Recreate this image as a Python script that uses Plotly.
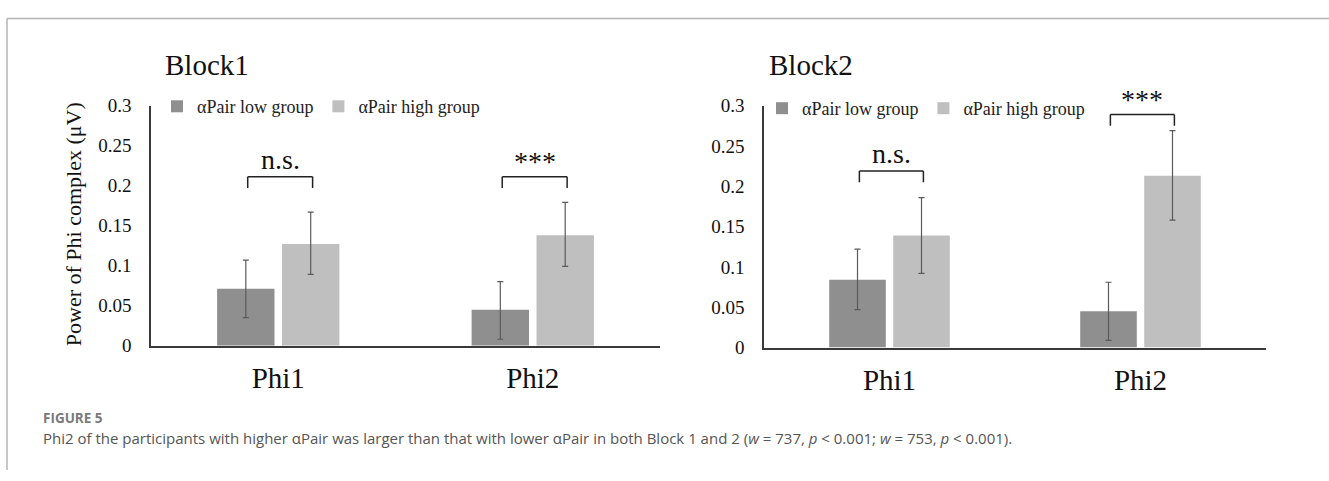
import plotly.graph_objects as go

# ---------------- data ----------------
categories = ["Phi1", "Phi2"]
group_names = ["αPair low group", "αPair high group"]

block1_low = [0.071, 0.045]
block1_low_upper = [0.107, 0.080]
block1_low_lower = [0.035, 0.008]
block1_high = [0.127, 0.138]
block1_high_upper = [0.167, 0.179]
block1_high_lower = [0.089, 0.099]

block2_low = [0.084, 0.045]
block2_low_upper = [0.122, 0.081]
block2_low_lower = [0.047, 0.009]
block2_high = [0.139, 0.213]
block2_high_upper = [0.186, 0.269]
block2_high_lower = [0.092, 0.158]

block1_sig = ["n.s.", "***"]
block1_bracket = [0.211, 0.211]
block2_sig = ["n.s.", "***"]
block2_bracket = [0.219, 0.289]

y_tickvals = [0, 0.05, 0.1, 0.15, 0.2, 0.25, 0.3]
y_ticktext = ["0", "0.05", "0.1", "0.15", "0.2", "0.25", "0.3"]

panel_titles = ["Block1", "Block2"]
y_title = "Power of Phi complex (μV)"
fig_label = "FIGURE 5"
caption = ("Phi2 of the participants with higher αPair was larger than that with lower αPair "
           "in both Block 1 and 2 (<i>w</i> = 737, <i>p</i> &lt; 0.001; <i>w</i> = 753, <i>p</i> &lt; 0.001).")

# ---------------- style ----------------
W, H = 1329, 481
SERIF = "Liberation Serif, Times New Roman, serif"
LOW_COLOR = "#8f8f8f"
HIGH_COLOR = "#bfbfbf"
ERR_COLOR = "#5a5a5a"
AXIS_COLOR = "#3a3a3a"

def px_x(p):
    return p / W

def px_y(p):
    return 1 - p / H

fig = go.Figure()

def err(mean, upper, lower):
    return dict(type="data", array=[u - m for u, m in zip(upper, mean)],
                arrayminus=[m - l for m, l in zip(mean, lower)],
                color=ERR_COLOR, thickness=1.2, width=3, visible=True)

panels = [
    ("x", "y", "legend", block1_low, block1_low_upper, block1_low_lower,
     block1_high, block1_high_upper, block1_high_lower),
    ("x2", "y2", "legend2", block2_low, block2_low_upper, block2_low_lower,
     block2_high, block2_high_upper, block2_high_lower),
]

for xa, ya, leg, lo, lo_u, lo_l, hi, hi_u, hi_l in panels:
    fig.add_trace(go.Bar(x=categories, y=lo, name=group_names[0], marker_color=LOW_COLOR,
                         marker_line_width=0, error_y=err(lo, lo_u, lo_l),
                         xaxis=xa, yaxis=ya, legend=leg, offsetgroup="low"))
    fig.add_trace(go.Bar(x=categories, y=hi, name=group_names[1], marker_color=HIGH_COLOR,
                         marker_line_width=0, error_y=err(hi, hi_u, hi_l),
                         xaxis=xa, yaxis=ya, legend=leg, offsetgroup="high"))

xaxis_common = dict(showline=True, linecolor=AXIS_COLOR, linewidth=1.5, ticks="",
                    showgrid=False, zeroline=False, tickfont=dict(family=SERIF, size=29, color="#111"),
                    ticklabelstandoff=6)
yaxis_common = dict(range=[0, 0.3], showline=True, linecolor=AXIS_COLOR, linewidth=1.5, ticks="",
                    showgrid=False, zeroline=False, tickvals=y_tickvals, ticktext=y_ticktext,
                    tickfont=dict(family=SERIF, size=19, color="#111"), ticklabelstandoff=14)

fig.update_layout(
    width=W, height=H, margin=dict(l=0, r=0, t=0, b=0),
    paper_bgcolor="white", plot_bgcolor="white",
    barmode="group", bargap=0.49, bargroupgap=0.116,
    xaxis=dict(domain=[px_x(151), px_x(660)], anchor="y", **xaxis_common),
    yaxis=dict(domain=[px_y(351), px_y(100)], anchor="x", **yaxis_common),
    xaxis2=dict(domain=[px_x(764), px_x(1266)], anchor="y2", **xaxis_common),
    yaxis2=dict(domain=[px_y(353), px_y(100)], anchor="x2", **yaxis_common),
    legend=dict(orientation="h", x=px_x(157), xanchor="left", y=px_y(101), yanchor="middle",
                font=dict(family=SERIF, size=18, color="#222"), bgcolor="rgba(0,0,0,0)",
                itemclick=False, itemdoubleclick=False),
    legend2=dict(orientation="h", x=px_x(762), xanchor="left", y=px_y(103), yanchor="middle",
                 font=dict(family=SERIF, size=18, color="#222"), bgcolor="rgba(0,0,0,0)",
                 itemclick=False, itemdoubleclick=False),
    showlegend=True,
)

# significance brackets
shapes = []
annotations = []
for xr, yr, sigs, heights in [("x", "y", block1_sig, block1_bracket), ("x2", "y2", block2_sig, block2_bracket)]:
    for i, (s, h) in enumerate(zip(sigs, heights)):
        x0, x1 = i - 0.12, i + 0.135
        leg = 0.014
        line = dict(color="#222", width=1.5)
        shapes.append(dict(type="line", xref=xr, yref=yr, x0=x0, x1=x1, y0=h, y1=h, line=line))
        shapes.append(dict(type="line", xref=xr, yref=yr, x0=x0, x1=x0, y0=h, y1=h - leg, line=line))
        shapes.append(dict(type="line", xref=xr, yref=yr, x0=x1, x1=x1, y0=h, y1=h - leg, line=line))
        annotations.append(dict(xref=xr, yref=yr, x=(x0 + x1) / 2, y=h, text=s, showarrow=False,
                                xanchor="center", yanchor="bottom",
                                yshift=-2 if s == "***" else 0,
                                font=dict(family=SERIF, size=28, color="#111")))

# panel titles
annotations.append(dict(xref="paper", yref="paper", x=px_x(163), y=px_y(58), text=panel_titles[0],
                        showarrow=False, xanchor="left", yanchor="middle",
                        font=dict(family=SERIF, size=29, color="#111")))
annotations.append(dict(xref="paper", yref="paper", x=px_x(767), y=px_y(58), text=panel_titles[1],
                        showarrow=False, xanchor="left", yanchor="middle",
                        font=dict(family=SERIF, size=29, color="#111")))
# y-axis title
annotations.append(dict(xref="paper", yref="paper", x=px_x(73), y=px_y(224), text=y_title,
                        showarrow=False, textangle=-90, xanchor="center", yanchor="middle",
                        font=dict(family=SERIF, size=22, color="#111")))
# caption
annotations.append(dict(xref="paper", yref="paper", x=px_x(41), y=px_y(427), text="<b>" + fig_label + "</b>",
                        showarrow=False, xanchor="left", yanchor="middle",
                        font=dict(family="Open Sans, sans-serif", size=13.5, color="#7a7a7a")))
annotations.append(dict(xref="paper", yref="paper", x=px_x(41), y=px_y(448), text=caption,
                        showarrow=False, xanchor="left", yanchor="middle",
                        font=dict(family="Open Sans, sans-serif", size=15, color="#555")))

# figure frame
frame = dict(color="#b5b5b5", width=1.5)
shapes.append(dict(type="line", xref="paper", yref="paper", x0=px_x(7), x1=1, y0=px_y(9), y1=px_y(9), line=frame))
shapes.append(dict(type="line", xref="paper", yref="paper", x0=px_x(7), x1=px_x(7), y0=px_y(9), y1=0, line=frame))

fig.update_layout(shapes=shapes, annotations=annotations)

fig.write_html("out.html")
